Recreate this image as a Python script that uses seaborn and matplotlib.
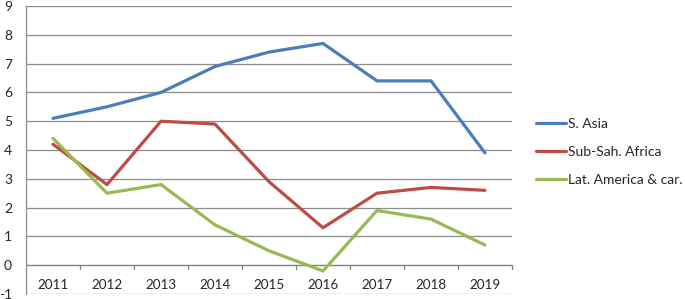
import numpy as np
import pandas as pd
import matplotlib
matplotlib.use('Agg')
import matplotlib.pyplot as plt
import seaborn as sns

years = ['2011','2012','2013','2014','2015','2016','2017','2018','2019']
sAsia = [5.1, 5.5, 6.0, 6.9, 7.4, 7.7, 6.4, 6.4, 3.9]
subSah = [4.2, 2.8, 5.0, 4.9, 2.9, 1.3, 2.5, 2.7, 2.6]
latAm = [4.4, 2.5, 2.8, 1.4, 0.5, -0.2, 1.9, 1.6, 0.7]
seriesNames = ['S. Asia', 'Sub-Sah. Africa', 'Lat. America & car.']
yticks = list(range(-1, 10))

sns.set_style('white')
plt.rcParams['font.family'] = ['Lato', 'DejaVu Sans']

rows = []
for name, vals in zip(seriesNames, [sAsia, subSah, latAm]):
    for i, v in enumerate(vals):
        rows.append({'idx': i, 'year': years[i], 'value': v, 'series': name})
df = pd.DataFrame(rows)

fig = plt.figure(figsize=(6.85, 2.99), dpi=100)
ax = fig.add_axes([26/685, 1-294/299, (512-26)/685, (294-6)/299])

colors = ['#4A7EBB', '#BE4B48', '#98B954']
sns.lineplot(data=df, x='idx', y='value', hue='series', palette=colors,
             linewidth=2.3, ax=ax, legend=True)

ax.set_xlim(-0.5, len(years)-0.5)
ax.set_ylim(-1, 9)
ax.set_yticks(yticks)
ax.set_yticklabels([str(t) for t in yticks], fontsize=10)
for t in yticks:
    if t != 0:
        ax.axhline(t, color='#8c8c8c', lw=0.9, zorder=0)
ax.axhline(0, color='#808080', lw=1.0, zorder=0.5)

# category labels centred, tick marks on boundaries
ax.set_xticks(np.arange(len(years)))
ax.set_xticklabels([])
ax.tick_params(axis='x', which='major', length=0)
for i, y in enumerate(years):
    ax.text(i, -0.68, y, ha='center', va='center', fontsize=9.7)
for b in np.arange(1, len(years)+1)-0.5:
    ax.plot([b, b], [0, -0.14], color='#808080', lw=0.9, clip_on=False)

ax.tick_params(axis='y', which='major', direction='out', length=4, width=0.9,
               color='#8c8c8c', pad=6)

for s in ['top', 'right', 'bottom']:
    ax.spines[s].set_visible(False)
ax.spines['left'].set_color('#8c8c8c')
ax.spines['left'].set_linewidth(0.9)
ax.set_xlabel('')
ax.set_ylabel('')

h, l = ax.get_legend_handles_labels()
ax.legend(h, l, frameon=False, fontsize=10, loc='center left',
          bbox_to_anchor=(530/685, 1-152/299), bbox_transform=fig.transFigure,
          borderaxespad=0, handlelength=2.2, handletextpad=0.15,
          labelspacing=1.15)

fig.savefig('out.png', dpi=100)
